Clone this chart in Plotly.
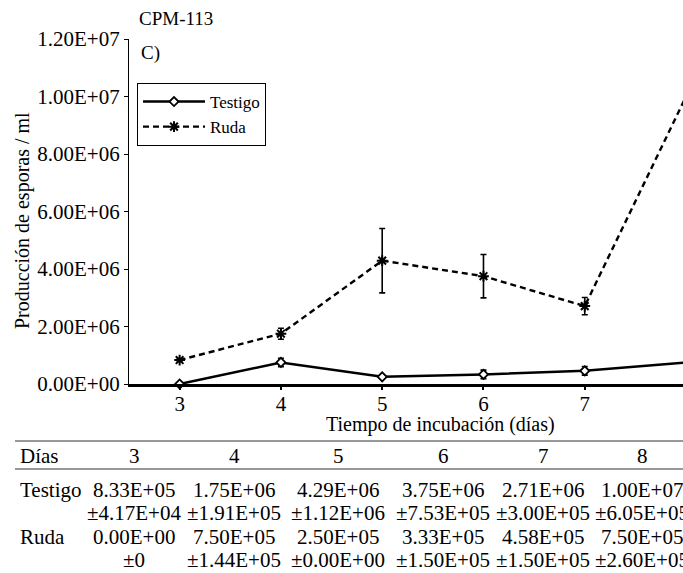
import plotly.graph_objects as go

# ---------------- data ----------------
dias = [3, 4, 5, 6, 7, 8]
testigo = [0.0, 7.50e5, 2.50e5, 3.33e5, 4.58e5, 7.50e5]
testigo_err = [0.0, 1.44e5, 0.0, 1.50e5, 1.50e5, 2.60e5]
ruda = [8.33e5, 1.75e6, 4.29e6, 3.75e6, 2.71e6, 1.00e7]
ruda_err = [4.17e4, 1.91e5, 1.12e6, 7.53e5, 3.00e5, 6.05e5]

y_tickvals = [0, 2e6, 4e6, 6e6, 8e6, 1e7, 1.2e7]
y_ticktext = ["0.00E+00", "2.00E+06", "4.00E+06", "6.00E+06", "8.00E+06", "1.00E+07", "1.20E+07"]
x_tickvals = [3, 4, 5, 6, 7, 8]

table_header = ["3", "4", "5", "6", "7", "8"]
table_row1_label = "Testigo"
table_row1 = ["8.33E+05", "1.75E+06", "4.29E+06", "3.75E+06", "2.71E+06", "1.00E+07"]
table_row1_err = ["±4.17E+04", "±1.91E+05", "±1.12E+06", "±7.53E+05", "±3.00E+05", "±6.05E+05"]
table_row2_label = "Ruda"
table_row2 = ["0.00E+00", "7.50E+05", "2.50E+05", "3.33E+05", "4.58E+05", "7.50E+05"]
table_row2_err = ["±0", "±1.44E+05", "±0.00E+00", "±1.50E+05", "±1.50E+05", "±2.60E+05"]

# ---------------- layout geometry (page pixel coords) ----------------
W, H = 683, 573
PL, PR, PT, PB = 129, 685, 39, 384  # plot area on the page
L, T = PL, PT
R = 0
B = H - PB
PW, PH = W - L - R, H - T - B
FONT = "Liberation Serif"


def px(x):
    return (x - L) / PW


def py(y):
    return (H - B - y) / PH


fig = go.Figure()

fig.add_trace(go.Scatter(
    x=dias, y=testigo, name="Testigo", mode="lines+markers",
    line=dict(color="black", width=2.5),
    marker=dict(symbol="diamond", size=7, color="white",
                line=dict(color="black", width=1.8)),
    error_y=dict(type="data", array=testigo_err, color="black", thickness=1.6, width=3),
    cliponaxis=False,
))
fig.add_trace(go.Scatter(
    x=dias, y=ruda, name="Ruda", mode="lines+markers",
    line=dict(color="black", width=2.4, dash="6px,4px"),
    marker=dict(symbol="asterisk-open", size=9, color="black",
                line=dict(color="black", width=2)),
    error_y=dict(type="data", array=ruda_err, color="black", thickness=1.6, width=3),
    cliponaxis=False,
))

annotations = []


def text(t, x, y, size=19, anchor="center", angle=0):
    annotations.append(dict(text=t, x=px(x), y=py(y), xref="paper", yref="paper",
                            xanchor=anchor, yanchor="middle", showarrow=False, textangle=angle,
                            font=dict(family=FONT, size=size, color="black")))


text("CPM-113", 137, 19, anchor="left")
text("C)", 139, 53, anchor="left")
text("Producción de esporas / ml", 22, 221, size=20, angle=-90)
text("Tiempo de incubación (días)", 440, 425, size=20)

# table
col_x = [134, 234, 338, 443, 543, 642]
row_y = {"head": 456, "r1": 490, "r1e": 513, "r2": 537, "r2e": 560}
TS = 21

text("Días", 18, row_y["head"], size=TS, anchor="left")
text(table_row1_label, 18, row_y["r1"], size=TS, anchor="left")
text(table_row2_label, 18, row_y["r2"], size=TS, anchor="left")
for i, cx in enumerate(col_x):
    text(table_header[i], cx, row_y["head"], size=TS)
    text(table_row1[i], cx, row_y["r1"], size=TS)
    text(table_row1_err[i], cx, row_y["r1e"], size=TS)
    text(table_row2[i], cx, row_y["r2"], size=TS)
    text(table_row2_err[i], cx, row_y["r2e"], size=TS)

shapes = [
    dict(type="line", xref="paper", yref="paper", x0=px(15), x1=px(700), y0=py(441), y1=py(441),
         line=dict(color="#333333", width=1.2)),
    dict(type="line", xref="paper", yref="paper", x0=px(15), x1=px(700), y0=py(469), y1=py(469),
         line=dict(color="#333333", width=1.2)),
]

fig.update_layout(
    width=W, height=H,
    margin=dict(l=L, r=R, t=T, b=B, pad=0),
    paper_bgcolor="white", plot_bgcolor="white",
    font=dict(family=FONT, size=19, color="black"),
    showlegend=True,
    legend=dict(x=px(137), y=py(83), xanchor="left", yanchor="top",
                bordercolor="black", borderwidth=1, bgcolor="white",
                font=dict(family=FONT, size=17, color="black"),
                tracegroupgap=0, itemwidth=62),
    annotations=annotations,
    shapes=shapes,
)
fig.update_xaxes(range=[2.5, 7.97], tickvals=x_tickvals, showline=True, linecolor="black",
                 linewidth=2.5, ticks="outside", ticklen=3, tickcolor="black", tickwidth=1.5,
                 ticklabelstandoff=-4,
                 showgrid=False, zeroline=False, tickfont=dict(family=FONT, size=21))
fig.update_yaxes(range=[0, 1.2e7], tickvals=y_tickvals, ticktext=y_ticktext, showline=True,
                 linecolor="black", linewidth=1.2, ticks="outside", ticklen=4, tickcolor="black",
                 showgrid=False, zeroline=False, tickfont=dict(family=FONT, size=21))

fig.write_html(
    "out.html",
    config={"displayModeBar": False},
    post_script="document.body.style.margin='0';document.body.style.overflow='hidden';",
)
